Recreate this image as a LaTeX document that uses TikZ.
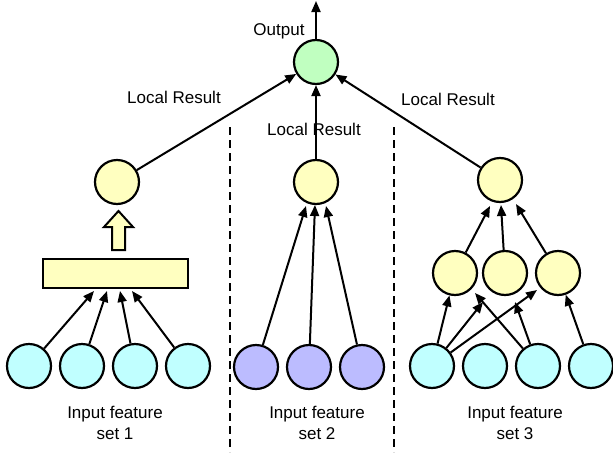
\documentclass[tikz,border=0pt]{standalone}
\usepackage{fontspec}
\setmainfont{Liberation Sans}
\usetikzlibrary{arrows.meta}
\definecolor{ylw}{HTML}{FFFFC0}
\definecolor{grn}{HTML}{C0FFC0}
\definecolor{cyn}{HTML}{C0FFFF}
\definecolor{prp}{HTML}{BCBCFF}
\begin{document}
\begin{tikzpicture}[x=1pt,y=-1pt, line width=2pt,
  unit/.style={circle, draw, line width=2.2pt, minimum size=44pt, inner sep=0pt},
  arr/.style={line width=2pt, -{Triangle[length=11pt,width=9pt]}},
  lbl/.style={font=\fontsize{17}{21}\selectfont, inner sep=0pt, align=center},
  sep/.style={line width=2pt, dash pattern=on 8pt off 5pt}]
\useasboundingbox (0,0) rectangle (613,458);
% separators
\draw[sep] (230,127) -- (230,452);
\draw[sep] (394,127) -- (394,452);
% output
\node[unit, fill=grn] (out) at (316,62) {};
\coordinate (top) at (316,1);
\draw[arr] (out) -- (top);
\node[lbl] (outl) at (279,31) {Output};
% ---- set 1
\node[unit, fill=ylw] (y1) at (117,182) {};
\node[draw, line width=2.2pt, fill=ylw, minimum width=145pt, minimum height=29.5pt, inner sep=0pt] (rect) at (115.5,273.5) {};
\foreach \i/\x in {1/29,2/82,3/135,4/188}{
  \node[unit, fill=cyn] (a\i) at (\x,366) {};
}
\coordinate (r1) at (94,291);
\coordinate (r2) at (107,291);
\coordinate (r3) at (120,291);
\coordinate (r4) at (132,291);
\foreach \i in {1,2,3,4}{ \draw[arr] (a\i) -- (r\i); }
\draw[fill=ylw, line width=2pt] (112,250) -- (125,250) -- (125,227) -- (133,227) -- (118.5,211)
  -- (104,227) -- (112,227) -- cycle;
\node[lbl] (t1) at (115,423) {Input feature\\set 1};
% ---- set 2
\node[unit, fill=ylw] (y2) at (316,182) {};
\foreach \i/\x in {1/256,2/309,3/362}{
  \node[unit, fill=prp] (b\i) at (\x,367) {};
}
\coordinate (m1) at (306,206);
\coordinate (m2) at (315,205);
\coordinate (m3) at (326,206);
\foreach \i in {1,2,3}{ \draw[arr] (b\i) -- (m\i); }
\node[lbl] (t2) at (317,423) {Input feature\\set 2};
% ---- set 3
\node[unit, fill=ylw] (y3) at (500,180) {};
\node[unit, fill=ylw] (h1) at (455,273) {};
\node[unit, fill=ylw] (h2) at (505,273) {};
\node[unit, fill=ylw] (h3) at (558,273) {};
\foreach \i/\x in {1/432,2/485,3/538,4/591}{
  \node[unit, fill=cyn] (c\i) at (\x,366) {};
}
\coordinate (k1) at (490,206);
\coordinate (k2) at (501,205);
\coordinate (k3) at (516,204);
\foreach \i in {1,2,3}{ \draw[arr] (h\i) -- (k\i); }
\coordinate (e12) at (483,302);
\coordinate (e13) at (537,290);
\coordinate (e31) at (475,293);
\coordinate (e32) at (515,302);
\draw[arr] (c1) -- (h1);
\draw[arr] (c1) -- (e12);
\draw[arr] (c1) -- (e13);
\draw[arr] (c3) -- (e31);
\draw[arr] (c3) -- (e32);
\draw[arr] (c4) -- (h3);
\node[lbl] (t3) at (515,423) {Input feature\\set 3};
% ---- local results
\draw[arr] (y1) -- (out);
\draw[arr] (y2) -- (out);
\draw[arr] (y3) -- (out);
\node[lbl] (l1) at (174,97) {Local Result};
\node[lbl] (l2) at (314,129) {Local Result};
\node[lbl] (l3) at (448,99) {Local Result};
\end{tikzpicture}
\end{document}
